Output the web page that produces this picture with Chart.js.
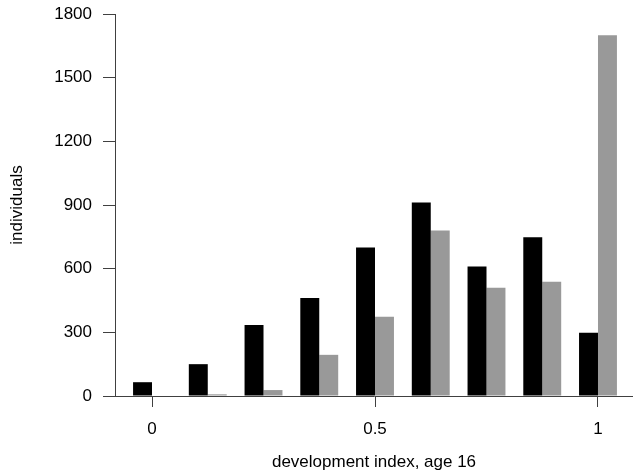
<!DOCTYPE html>
<html>
<head>
<meta charset="utf-8">
<script src="https://cdn.jsdelivr.net/npm/chart.js@4"></script>
<style>
  html, body { margin: 0; padding: 0; background: #fff; }
  #wrap { width: 633px; height: 474px; }
</style>
</head>
<body>
<div id="wrap"><canvas id="c" width="633" height="474"></canvas></div>
<script>
// development index values (group centres)
const devIndex = [0, 0.125, 0.25, 0.375, 0.5, 0.625, 0.75, 0.875, 1];
// first series (black)
const seriesBlack = [65, 150, 335, 462, 700, 912, 610, 748, 298];
// second series (grey)
const seriesGrey = [0, 8, 28, 194, 374, 780, 510, 538, 1700];
// axis ticks
const xTickLabels = [0, 0.5, 1];
const yTicks = [0, 300, 600, 900, 1200, 1500, 1800];

const FONT = "'Liberation Sans', Arial, Helvetica, sans-serif";
const AXIS = '#404040';

new Chart(document.getElementById('c'), {
  type: 'bar',
  data: {
    datasets: [
      { label: 'black', data: devIndex.map((x, i) => ({ x, y: seriesBlack[i] })), backgroundColor: '#000000', borderWidth: 0 },
      { label: 'grey', data: devIndex.map((x, i) => ({ x, y: seriesGrey[i] })), backgroundColor: '#999999', borderWidth: 0 }
    ]
  },
  options: {
    responsive: false,
    animation: false,
    devicePixelRatio: 1,
    layout: { padding: { top: 14, right: 0, bottom: 0, left: 0 } },
    datasets: { bar: { categoryPercentage: 0.68, barPercentage: 1 } },
    plugins: { legend: { display: false }, tooltip: { enabled: false } },
    scales: {
      x: {
        type: 'linear',
        offset: false,
        min: -0.083,
        max: 1.0785,
        afterFit: (s) => { s.height = 78; s.paddingLeft = 0; s.paddingRight = 0; },
        afterBuildTicks: (s) => { s.ticks = xTickLabels.map(v => ({ value: v })); },
        grid: { offset: false, drawOnChartArea: false, drawTicks: true, tickLength: 11, tickColor: AXIS, tickWidth: 1 },
        border: { display: true, color: AXIS, width: 1 },
        ticks: { color: '#000', padding: 12, font: { family: FONT, size: 17 }, maxRotation: 0, callback: (v) => String(v) },
        title: { display: true, text: 'development index, age 16', color: '#000', font: { family: FONT, size: 17 }, padding: { top: 0, bottom: 1 } }
      },
      y: {
        min: 0,
        max: 1800,
        afterFit: (s) => { s.width = 115; s.paddingTop = 0; s.paddingBottom = 0; },
        afterBuildTicks: (s) => { s.ticks = yTicks.map(v => ({ value: v })); },
        grid: { drawOnChartArea: false, drawTicks: true, tickLength: 12, tickColor: AXIS, tickWidth: 1 },
        border: { display: true, color: AXIS, width: 1 },
        ticks: { color: '#000', padding: 11, font: { family: FONT, size: 17 }, callback: (v) => String(v) },
        title: { display: true, text: 'individuals', color: '#000', font: { family: FONT, size: 17 }, padding: { top: 7, bottom: 0 } }
      }
    }
  }
});
</script>
</body>
</html>
